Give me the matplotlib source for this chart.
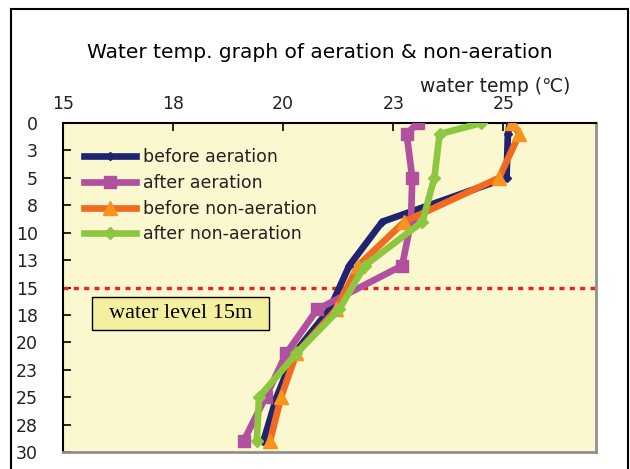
import matplotlib
matplotlib.use("Agg")
import matplotlib.pyplot as plt
from matplotlib.lines import Line2D
from matplotlib.patches import Rectangle

plt.rcParams['font.family'] = ['DejaVu Sans', 'Noto Sans CJK SC']

# depth of each measurement (m)
depth = [0, 1, 5, 9, 13, 17, 21, 25, 29]

# water temperature (deg C) at each depth
before_aeration = [25.14, 25.1, 25.07, 22.25, 21.5, 21.05, 20.25, 19.85, 19.55]
after_aeration = [23.05, 22.8, 22.93, 22.9, 22.7, 20.77, 20.07, 19.6, 19.1]
before_non_aeration = [25.2, 25.36, 24.9, 22.75, 21.7, 21.2, 20.3, 19.95, 19.7]
after_non_aeration = [24.5, 23.55, 23.43, 23.16, 21.85, 21.27, 20.3, 19.45, 19.4]

xticks = [15, 17.5, 20, 22.5, 25]
xtick_labels = ['15', '18', '20', '23', '25']
yticks = [0, 2.5, 5, 7.5, 10, 12.5, 15, 17.5, 20, 22.5, 25, 27.5, 30]
ytick_labels = ['0', '3', '5', '8', '10', '13', '15', '18', '20', '23', '25', '28', '30']
water_level = 15

fig = plt.figure(figsize=(6.3, 4.69), dpi=100)
ax = fig.add_axes([0.1, 0.0362, 0.846, 0.7015])
ax.set_facecolor('#FBF7CF')

ax.plot(before_aeration, depth, color='#1F2470', lw=4.8, marker='D', ms=4,
        label='before aeration', zorder=3)
ax.plot(after_aeration, depth, color='#B0509F', lw=4.8, marker='s', ms=9,
        label='after aeration', zorder=4)
ax.plot(before_non_aeration, depth, color='#F26A22', lw=4.8, marker='^', ms=9.5,
        mfc='#F7941D', mec='#F7941D', label='before non-aeration', zorder=5)
ax.plot(after_non_aeration, depth, color='#8DC63F', lw=4.8, marker='D', ms=6.5,
        label='after non-aeration', zorder=6)

ax.axhline(water_level, color='#EE2024', lw=2.4, ls=(0, (1.5, 1.6)), zorder=2)

# "water level" label box
ax.add_patch(Rectangle((15.66, 15.86), 4.02, 3.01, fc='#F5F0A0', ec='black',
                       lw=1, zorder=7))
ax.text(17.67, 17.4, 'water level 15m', family='Liberation Serif', fontsize=16,
        ha='center', va='center', zorder=8)

ax.set_xlim(15, 27.1)
ax.set_ylim(30, 0)
ax.xaxis.tick_top()
ax.set_xticks(xticks)
ax.set_xticklabels(xtick_labels, fontsize=12.5, color='#222222')
ax.set_yticks(yticks)
ax.set_yticklabels(ytick_labels, fontsize=12.5, color='#222222')
ax.tick_params(axis='x', direction='in', length=6, width=1.2, pad=7)
ax.tick_params(axis='y', direction='in', length=6, width=1.2, pad=18)

for s in ['top', 'left']:
    ax.spines[s].set_color('black')
    ax.spines[s].set_linewidth(1.5)
for s in ['right', 'bottom']:
    ax.spines[s].set_color('#909090')
    ax.spines[s].set_linewidth(2)

leg = ax.legend(loc='upper left', bbox_to_anchor=(0.027, 0.945), frameon=False,
                fontsize=12.5, handlelength=3.0, handletextpad=0.4,
                labelspacing=0.45, borderaxespad=0)
for t in leg.get_texts():
    t.set_color('#222222')

fig.text(0.508, 0.889, 'Water temp. graph of aeration & non-aeration',
         ha='center', va='center', fontsize=14.5)
fig.text(0.905, 0.815, 'water temp (℃)', ha='right', va='center', fontsize=13.5,
         color='#222222')

# outer frame
fig.add_artist(Line2D([0.017, 0.017], [0, 0.981], color='black', lw=1.5))
fig.add_artist(Line2D([0.017, 0.997], [0.981, 0.981], color='black', lw=1.5))
fig.add_artist(Line2D([0.997, 0.997], [0, 0.981], color='black', lw=1.5))

fig.savefig('out.png', dpi=100)
